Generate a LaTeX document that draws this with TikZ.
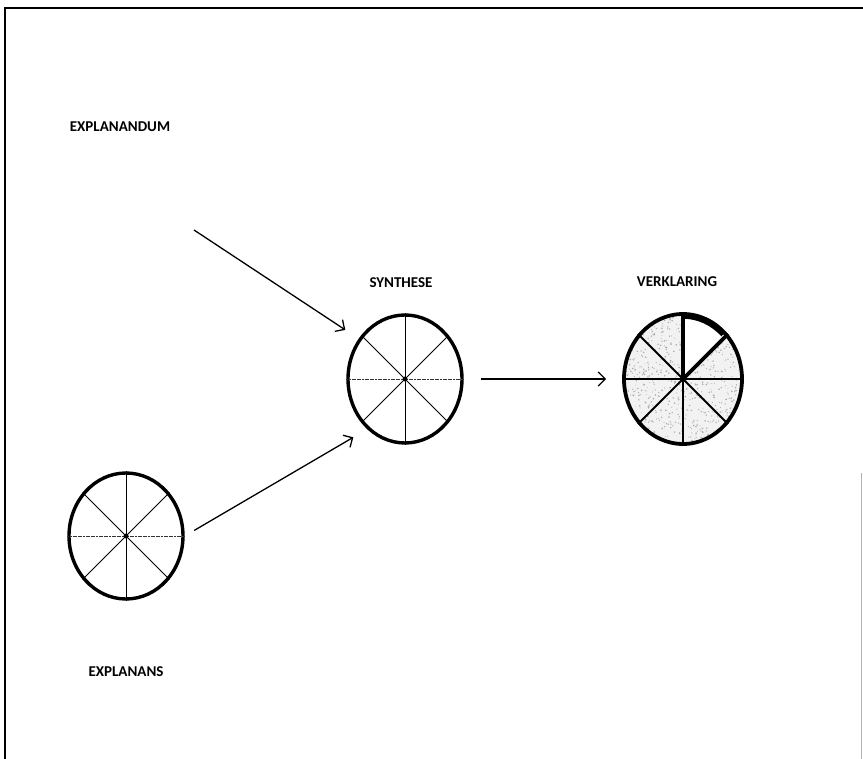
\documentclass[tikz,border=0pt]{standalone}
\usepackage{fontspec}
\setmainfont{Carlito}
\usetikzlibrary{shapes.geometric,arrows.meta}
\tikzset{
  lbl/.style={font=\fontsize{15}{17}\selectfont\bfseries, inner sep=0pt},
  wheel/.style={ellipse, draw, line width=3.4pt, inner sep=0pt},
  spoke/.style={line width=0.8pt},
  hspoke/.style={line width=0.9pt, dash pattern=on 2pt off 0.6pt, black!80},
  conn/.style={line width=1.3pt, -{Straight Barb[length=7pt,width=14pt,line width=1.3pt]}},
  hub/.style={circle, fill, inner sep=0pt, minimum size=5pt}
}
\begin{document}
\begin{tikzpicture}[x=1pt,y=-1pt]
\useasboundingbox (0,0) rectangle (863,759);
\fill[white] (0,0) rectangle (863,759);
% frame
\draw[line width=2pt] (5,759) -- (5,8) -- (863,8);
\draw[line width=1pt, gray!60] (861.5,473) -- (861.5,759);

% labels
\node[lbl] (tdum) at (120,127) {EXPLANANDUM};
\node[lbl] (tsyn) at (401,283) {SYNTHESE};
\node[lbl] (tver) at (677,282) {VERKLARING};
\node[lbl] (tans) at (126,672) {EXPLANANS};
\coordinate (a1) at (194,230);

% explanans wheel
\node[wheel, minimum width=114, minimum height=126] (ans) at (126,536) {};
\foreach \a in {45,90,135,225,270,315} \draw[spoke] (ans.center) -- (ans.\a);
\draw[hspoke] (ans.180) -- (ans.0);
\node[hub] at (ans.center) {};

% synthese wheel
\node[wheel, minimum width=114, minimum height=128] (syn) at (405,379) {};
\foreach \a in {45,90,135,225,270,315} \draw[spoke] (syn.center) -- (syn.\a);
\draw[hspoke] (syn.180) -- (syn.0);
\node[hub] at (syn.center) {};

% verklaring wheel
\begin{scope}
\clip (683,379) ellipse [x radius=59pt, y radius=65pt];
\fill[gray!10] (683,379) ellipse [x radius=59pt, y radius=65pt];
\pgfmathsetseed{4711}
\foreach \i in {1,...,750} {
  \fill[gray!65] ({683+59*rand},{379+65*rand}) circle ({0.4+0.5*rnd});
}
\fill[white] (683,379) -- (683,314) arc[start angle=90, end angle=45, x radius=59pt, y radius=65pt] -- cycle;
\end{scope}
\node[wheel, line width=3.8pt, minimum width=118, minimum height=130] (ver) at (683,379) {};
\foreach \a in {135,180,225,270,315,0} \draw[line width=2pt] (ver.center) -- (ver.\a);
\draw[line width=3.8pt] (ver.center) -- (ver.90);
\draw[line width=3.8pt] (ver.center) -- (ver.45);
\draw[line width=5.5pt] (683,316) arc[start angle=90, end angle=45, x radius=57pt, y radius=63pt];

% connectors
\draw[conn, shorten >=16pt] (a1) -- (syn.139);
\draw[conn, shorten <=11pt, shorten >=16pt] (ans.east) -- (syn.233);
\draw[conn, shorten <=17pt, shorten >=16pt] (syn.east) -- (ver.west);
\end{tikzpicture}
\end{document}
